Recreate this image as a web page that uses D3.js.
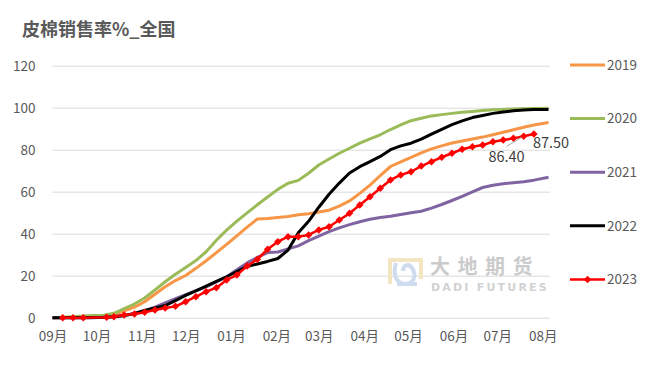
<!DOCTYPE html>
<html>
<head>
<meta charset="utf-8">
<script src="https://cdn.jsdelivr.net/npm/d3@7"></script>
<style>
  body { margin: 0; background: #fff; }
  text { font-family: "Noto Sans CJK SC", "Noto Sans", sans-serif; }
</style>
</head>
<body>
<div id="container"></div>
<script>
// weekly report dates (season axis Sep -> Aug)
const weeks = [
  "2023-09-01","2023-09-08","2023-09-15","2023-09-22","2023-09-29","2023-10-06","2023-10-13","2023-10-20","2023-10-27",
  "2023-11-03","2023-11-10","2023-11-17","2023-11-24","2023-12-01","2023-12-08","2023-12-15","2023-12-22","2023-12-29",
  "2024-01-05","2024-01-12","2024-01-19","2024-01-26","2024-02-02","2024-02-09","2024-02-16","2024-02-23",
  "2024-03-01","2024-03-08","2024-03-15","2024-03-22","2024-03-29","2024-04-05","2024-04-12","2024-04-19","2024-04-26",
  "2024-05-03","2024-05-10","2024-05-17","2024-05-24","2024-05-31","2024-06-07","2024-06-14","2024-06-21","2024-06-28",
  "2024-07-05","2024-07-12","2024-07-19","2024-07-26","2024-08-05"
];
const v2019 = [0,0,0.2,0.3,0.5,0.7,1.5,3.3,5.0,7.6,11.2,14.7,17.7,20.1,23.5,27.1,31.0,34.9,39.0,43.1,47.0,47.2,47.7,48.2,49.0,49.5,
  50.3,51.2,53.1,55.6,59.2,63.1,67.7,72.0,74.2,76.3,78.5,80.4,81.8,83.2,84.1,85.1,86.0,87.1,88.3,89.5,90.7,91.8,93.0];
const v2020 = [0,0.2,0.5,0.8,1.0,1.2,2.1,4.3,6.5,9.4,13.2,17.1,20.7,23.9,27.2,31.4,36.9,41.7,46.0,49.9,53.8,57.5,61.1,64.0,65.4,68.8,
  72.7,75.6,78.3,80.7,83.1,85.2,87.1,89.6,91.8,93.8,95.0,96.1,96.7,97.3,97.8,98.2,98.7,99.0,99.2,99.4,99.5,99.6,99.7];
const v2021 = [0,0,0,0,0,0.2,0.5,1.0,2.0,3.3,5.0,7.0,9.1,11.0,12.9,14.7,17.1,19.5,22.8,26.1,28.7,31.0,31.3,32.8,34.2,36.7,
  38.9,41.0,42.8,44.3,45.7,46.9,47.7,48.3,49.1,50.0,50.7,52.2,53.9,55.8,57.8,59.9,62.0,63.1,63.8,64.3,64.7,65.5,66.9];
const v2022 = [0,0,0,0,0.1,0.2,0.5,1.0,2.0,3.4,4.6,5.8,8.1,10.6,12.8,15.0,17.3,19.5,22.0,24.4,25.6,26.8,28.2,32.2,40.5,45.9,
  52.6,58.8,64.1,68.9,71.9,74.3,76.8,80.0,81.8,83.1,85.0,87.4,89.7,91.9,93.7,95.3,96.3,97.3,97.9,98.5,98.9,99.1,99.2];

const dates2023 = [
  "2023-09-08","2023-09-15","2023-09-22","2023-10-08","2023-10-13","2023-10-20","2023-10-27","2023-11-03","2023-11-10",
  "2023-11-17","2023-11-24","2023-12-01","2023-12-08","2023-12-15","2023-12-22","2023-12-29","2024-01-05","2024-01-12",
  "2024-01-19","2024-01-26","2024-02-02","2024-02-09","2024-02-16","2024-02-23","2024-03-01","2024-03-08","2024-03-15",
  "2024-03-22","2024-03-29","2024-04-05","2024-04-12","2024-04-19","2024-04-26","2024-05-03","2024-05-10","2024-05-17",
  "2024-05-24","2024-05-31","2024-06-07","2024-06-14","2024-06-21","2024-06-28","2024-07-05","2024-07-12","2024-07-19","2024-07-26"
];
const v2023 = [0,0,0,0.2,0.5,1.3,1.8,2.6,3.7,4.6,5.4,7.6,10.0,12.4,14.3,18.0,20.3,24.6,27.8,32.6,36.2,38.6,38.6,39.4,41.8,43.3,46.5,
  49.7,53.7,57.6,61.6,65.6,68.0,69.5,72.2,74.3,76.4,78.3,80.2,81.4,82.2,83.8,84.6,85.4,86.40,87.50];

const seriesNames = ["2019", "2020", "2021", "2022", "2023"];
const yTicks = [0, 20, 40, 60, 80, 100, 120];
const monthTicks = ["2023-09-01","2023-10-01","2023-11-01","2023-12-01","2024-01-01","2024-02-01",
  "2024-03-01","2024-04-01","2024-05-01","2024-06-01","2024-07-01","2024-08-01"];

const colors = { "2019": "#f79646", "2020": "#9bbb59", "2021": "#8064a2", "2022": "#000000", "2023": "#ff0000" };

const parse = d3.timeParse("%Y-%m-%d");
const w = 647, h = 371;
const plotLeft = 52.5, plotRight = 550, plotTop = 65.7, plotBottom = 317.7;

const series = [
  { name: "2019", values: weeks.map((d, i) => ({ date: parse(d), value: v2019[i] })) },
  { name: "2020", values: weeks.map((d, i) => ({ date: parse(d), value: v2020[i] })) },
  { name: "2021", values: weeks.map((d, i) => ({ date: parse(d), value: v2021[i] })) },
  { name: "2022", values: weeks.map((d, i) => ({ date: parse(d), value: v2022[i] })) },
  { name: "2023", values: dates2023.map((d, i) => ({ date: parse(d), value: v2023[i] })) }
];

const xScale = d3.scaleTime()
                 .domain([parse("2023-09-01"), parse("2024-08-06")])
                 .range([plotLeft, plotRight]);
const yScale = d3.scaleLinear()
                 .domain([0, 120])
                 .range([plotBottom, plotTop]);

const svg = d3.select("#container")
              .append("svg")
              .attr("width", w)
              .attr("height", h);

svg.append("rect").attr("width", w).attr("height", h).attr("fill", "#fff");

// title
svg.append("text")
   .attr("x", 22)
   .attr("y", 36)
   .attr("fill", "#595959")
   .style("font-size", "18px")
   .style("font-weight", "bold")
   .text("皮棉销售率%_全国");

// y axis + gridlines
const yAxis = svg.append("g")
   .attr("transform", "translate(" + plotLeft + ",0)")
   .call(d3.axisLeft(yScale).tickValues(yTicks).tickSize(-(plotRight - plotLeft)).tickPadding(17));
yAxis.select(".domain").remove();
yAxis.selectAll("line").attr("stroke", "#d9d9d9").attr("stroke-width", 1);
yAxis.selectAll("text").attr("fill", "#595959").style("font-size", "13.5px");

// x axis
const xAxis = svg.append("g")
   .attr("transform", "translate(0," + plotBottom + ")")
   .call(d3.axisBottom(xScale).tickValues(monthTicks.map(parse)).tickFormat(d3.timeFormat("%m月")).tickSize(0).tickPadding(14));
xAxis.select(".domain").remove();
xAxis.selectAll("text").attr("fill", "#595959").style("font-size", "13.5px");

// watermark
const wm = svg.append("g").attr("transform", "translate(387,257)");
wm.append("path")
  .attr("d", "M3,27 V3 H34 V22")
  .attr("fill", "none").attr("stroke", "#f3e5c2").attr("stroke-width", 4);
wm.append("path")
  .attr("d", "M9,6 C6,16 8,26 18,27 C27,27 30,18 25,11 C22,6 16,8 16,14 M10,27 H30")
  .attr("fill", "none").attr("stroke", "#cfdcef").attr("stroke-width", 4);
svg.append("text")
   .attr("x", 430).attr("y", 274)
   .attr("fill", "#cbcbcb")
   .style("font-size", "20px").style("font-weight", "bold").style("letter-spacing", "7.5px")
   .text("大地期货");
svg.append("text")
   .attr("x", 431).attr("y", 290.5)
   .attr("fill", "#d2d2d2")
   .style("font-family", "'DejaVu Sans', sans-serif")
   .style("font-size", "11px").style("font-weight", "bold").style("letter-spacing", "2.2px")
   .text("DADI FUTURES");

// lines
const line = d3.line()
               .x((d) => xScale(d.date))
               .y((d) => yScale(d.value));

series.forEach(function(s){
    svg.append("path")
       .datum(s.values)
       .attr("fill", "none")
       .attr("stroke", colors[s.name])
       .attr("stroke-width", s.name === "2023" ? 2.5 : 3)
       .attr("stroke-linejoin", "round")
       .attr("d", line);
});

// 2023 diamond markers
const diamond = d3.symbol().type(d3.symbolSquare).size(28);
svg.selectAll(".marker")
   .data(series[4].values)
   .enter()
   .append("path")
   .attr("class", "marker")
   .attr("d", diamond)
   .attr("fill", colors["2023"])
   .attr("transform", (d) => "translate(" + xScale(d.date) + "," + yScale(d.value) + ")rotate(45)");

// data labels for the last two 2023 points
const n = series[4].values.length;
const p1 = series[4].values[n - 2], p2 = series[4].values[n - 1];
svg.append("line")
   .attr("x1", xScale(p1.date) - 17).attr("y1", yScale(p1.value) + 10)
   .attr("x2", xScale(p1.date) - 2).attr("y2", yScale(p1.value) + 1)
   .attr("stroke", "#a6a6a6").attr("stroke-width", 1);
svg.append("text")
   .attr("x", xScale(p1.date) + 1)
   .attr("y", yScale(p1.value) + 26)
   .attr("text-anchor", "end")
   .attr("fill", "#404040")
   .style("font-size", "14.5px")
   .text(p1.value.toFixed(2));
svg.append("text")
   .attr("x", xScale(p2.date) - 1)
   .attr("y", yScale(p2.value) + 14)
   .attr("fill", "#404040")
   .style("font-size", "14.5px")
   .text(p2.value.toFixed(2));

// legend
seriesNames.forEach(function(name, i){
    const ly = 65 + i * 53.6;
    svg.append("line")
       .attr("x1", 570).attr("x2", 605)
       .attr("y1", ly).attr("y2", ly)
       .attr("stroke", colors[name])
       .attr("stroke-width", name === "2023" ? 2.5 : 3);
    if (name === "2023") {
        svg.append("path")
           .attr("d", diamond)
           .attr("fill", colors[name])
           .attr("transform", "translate(587.5," + ly + ")rotate(45)");
    }
    svg.append("text")
       .attr("x", 607)
       .attr("y", ly)
       .attr("dy", "0.35em")
       .attr("fill", "#595959")
       .style("font-size", "13.5px")
       .text(name);
});
</script>
</body>
</html>
